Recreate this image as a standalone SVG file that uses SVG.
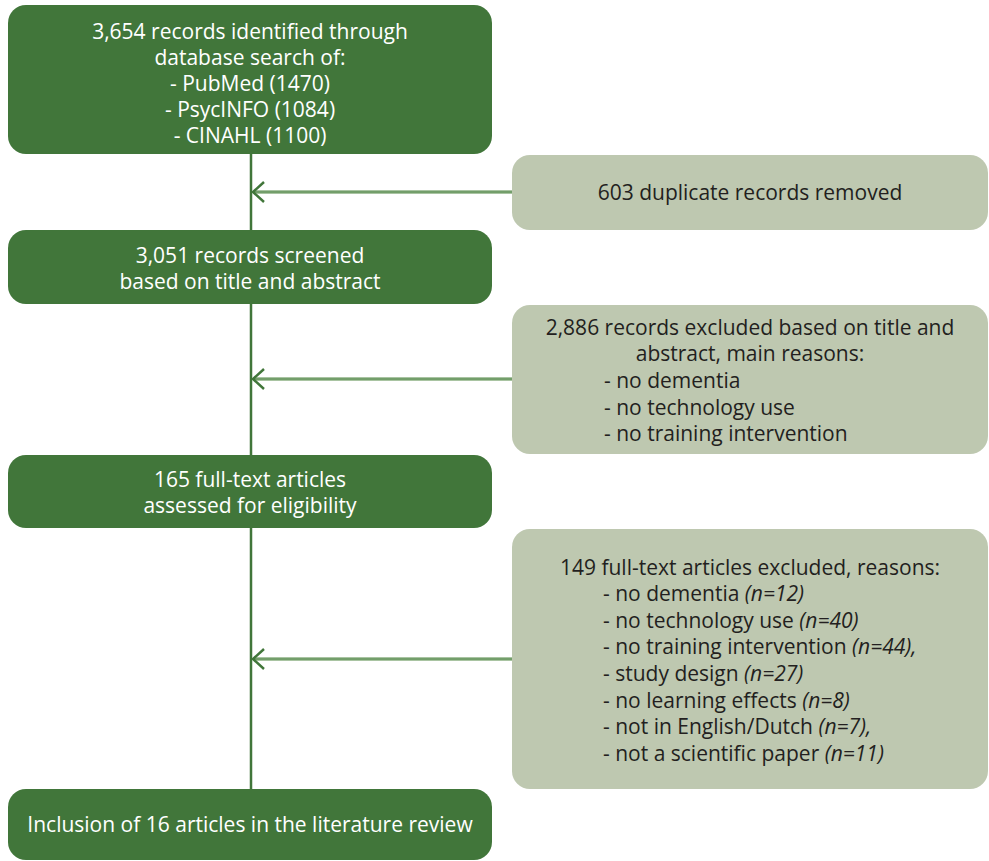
<svg xmlns="http://www.w3.org/2000/svg" width="989" height="861" viewBox="0 0 989 861">
<style>
.g{fill:#41763a}
.s{fill:#bec8b0}
.wt{font-family:"Open Sans","Liberation Sans",sans-serif;font-size:21px;fill:#ffffff;text-anchor:middle}
.dt{font-family:"Open Sans","Liberation Sans",sans-serif;font-size:21px;fill:#231f20}
.c{text-anchor:middle}
.i{font-style:italic}
.vl{stroke:#41763a;stroke-width:2.5;fill:none}
.hl{stroke:#8cb083;stroke-width:3.5;fill:none}
.hc{stroke:#5a8c52;stroke-width:1;fill:none}
.ah{stroke:#41763a;stroke-width:2.5;fill:none}
</style>
<rect width="989" height="861" fill="#ffffff"/>
<g id="connectors">
<line class="vl" x1="251" y1="150" x2="251" y2="792"/>
<line class="hl" x1="514" y1="192" x2="254" y2="192"/>
<line class="hc" x1="514" y1="192" x2="254" y2="192"/>
<polyline class="ah" points="264,182 253,192 264,202"/>
<line class="hl" x1="514" y1="379" x2="254" y2="379"/>
<line class="hc" x1="514" y1="379" x2="254" y2="379"/>
<polyline class="ah" points="264,369 253,379 264,389"/>
<line class="hl" x1="514" y1="659" x2="254" y2="659"/>
<line class="hc" x1="514" y1="659" x2="254" y2="659"/>
<polyline class="ah" points="264,649 253,659 264,669"/>
</g>
<g id="n1">
<rect class="g" x="8" y="5" width="484" height="149" rx="18"/>
<text class="wt" x="250" y="39">3,654 records identified through</text>
<text class="wt" x="250" y="65">database search of:</text>
<text class="wt" x="250" y="91">- PubMed (1470)</text>
<text class="wt" x="250" y="117">- PsycINFO (1084)</text>
<text class="wt" x="250" y="143">- CINAHL (1100)</text>
</g>
<g id="n2">
<rect class="g" x="8" y="230" width="484" height="74" rx="18"/>
<text class="wt" x="250" y="263">3,051 records screened</text>
<text class="wt" x="250" y="289">based on title and abstract</text>
</g>
<g id="n3">
<rect class="g" x="8" y="455" width="484" height="73" rx="18"/>
<text class="wt" x="250" y="487">165 full-text articles</text>
<text class="wt" x="250" y="513">assessed for eligibility</text>
</g>
<g id="n4">
<rect class="g" x="8" y="789" width="484" height="71" rx="18"/>
<text class="wt" x="250" y="832">Inclusion of 16 articles in the literature review</text>
</g>
<g id="r1">
<rect class="s" x="512" y="155" width="476" height="75" rx="18"/>
<text class="dt c" x="750" y="200">603 duplicate records removed</text>
</g>
<g id="r2">
<rect class="s" x="512" y="305" width="476" height="149" rx="18"/>
<text class="dt c" x="750" y="335">2,886 records excluded based on title and</text>
<text class="dt c" x="750" y="361">abstract, main reasons:</text>
<text class="dt" x="604" y="388">- no dementia</text>
<text class="dt" x="604" y="415">- no technology use</text>
<text class="dt" x="604" y="441">- no training intervention</text>
</g>
<g id="r3">
<rect class="s" x="512" y="529" width="476" height="260" rx="18"/>
<text class="dt c" x="750" y="575">149 full-text articles excluded, reasons:</text>
<text class="dt" x="603" y="601">- no dementia <tspan class="i">(n=12)</tspan></text>
<text class="dt" x="603" y="628">- no technology use <tspan class="i">(n=40)</tspan></text>
<text class="dt" x="603" y="654">- no training intervention <tspan class="i">(n=44),</tspan></text>
<text class="dt" x="603" y="681">- study design <tspan class="i">(n=27)</tspan></text>
<text class="dt" x="603" y="708">- no learning effects <tspan class="i">(n=8)</tspan></text>
<text class="dt" x="603" y="734">- not in English/Dutch <tspan class="i">(n=7),</tspan></text>
<text class="dt" x="603" y="761">- not a scientific paper <tspan class="i">(n=11)</tspan></text>
</g>
</svg>
